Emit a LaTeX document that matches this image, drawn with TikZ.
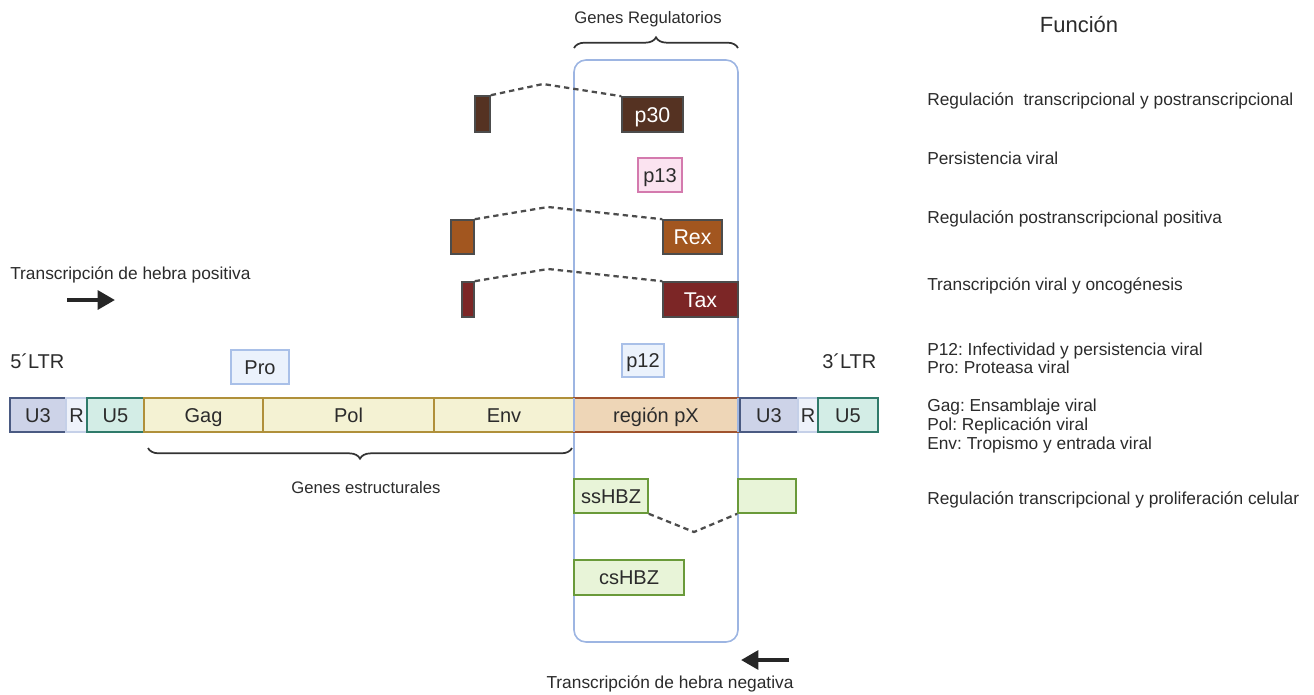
\documentclass[tikz,border=0pt]{standalone}
\usepackage{fontspec}
\setmainfont{Liberation Sans}
\usetikzlibrary{arrows.meta,decorations.pathreplacing}
\definecolor{txt}{HTML}{2B2B2B}
\definecolor{regblue}{HTML}{9DB5E2}
\definecolor{cp30}{HTML}{553222}
\definecolor{crex}{HTML}{A2561F}
\definecolor{ctax}{HTML}{7C2626}
\definecolor{p13fill}{HTML}{FBE3F0}
\definecolor{p13bd}{HTML}{D47AAE}
\definecolor{lbfill}{HTML}{EBF2FC}
\definecolor{lbbd}{HTML}{A9C0E8}
\definecolor{u3fill}{HTML}{CDD3E8}
\definecolor{u3bd}{HTML}{4A5A82}
\definecolor{rfill}{HTML}{EEF2FA}
\definecolor{rbd}{HTML}{C5D0E8}
\definecolor{u5fill}{HTML}{D3EDE6}
\definecolor{u5bd}{HTML}{2F7A6A}
\definecolor{sfill}{HTML}{F4F2D3}
\definecolor{sbd}{HTML}{B0903A}
\definecolor{pxfill}{HTML}{EED6B7}
\definecolor{pxbd}{HTML}{A0532E}
\definecolor{hfill}{HTML}{E8F4D8}
\definecolor{hbd}{HTML}{6A9A3A}
\def\u{0.75pt}
\frenchspacing
\tikzset{
  gbox/.style={draw, line width=1.2pt, inner sep=0pt, text=txt, font=\fontsize{15}{17}\selectfont, text height=10.8pt, text depth=0pt},
  dark/.style={gbox, draw=black!70, text=white, font=\fontsize{16}{18}\selectfont, text height=11.5pt},
  lbl/.style={inner sep=0pt, text=txt, font=\fontsize{13}{15}\selectfont},
  func/.style={lbl, anchor=west, align=left},
  splice/.style={line width=1.7pt, dash pattern=on 4pt off 3pt, draw=black!70},
  bigarrow/.style={line width=3pt, -{Triangle[length=13pt,width=14pt]}},
  brace/.style={decorate, decoration={brace, amplitude=8pt}, line width=1.3pt, draw=black!80},
}
\begin{document}
\begin{tikzpicture}[x=0.75pt,y=-0.75pt]
\useasboundingbox (0,0) rectangle (1314,694);

% regulatory region frame
\node[draw=regblue, line width=1.2pt, rounded corners=9pt, minimum width=164*\u, minimum height=582*\u, inner sep=0pt] (frame) at (656,351) {};

% top brace
\coordinate (tbl) at (574,48);
\coordinate (tbr) at (738,48);
\draw[brace] (tbl) -- (tbr);
\node[lbl, font=\fontsize{12.5}{15}\selectfont] (genreg) at (648,19) {Genes Regulatorios};
\node[lbl, font=\fontsize{16.5}{18}\selectfont] (funcion) at (1079,25) {Función};

% p30
\node[dark, fill=cp30, minimum width=61*\u, minimum height=35*\u] (p30) at (652.5,114.5) {p30};
\node[dark, fill=cp30, minimum width=15*\u, minimum height=36*\u] (p30e) at (482.5,114) {};
\coordinate (p30k) at (543,84);
\draw[splice] (p30e.north east) -- (p30k) -- (p30.north west);

% p13
\node[gbox, fill=p13fill, draw=p13bd, minimum width=44*\u, minimum height=34*\u] (p13) at (660,175) {p13};

% Rex
\node[dark, fill=crex, minimum width=59*\u, minimum height=34*\u] (rex) at (692.5,237) {Rex};
\node[dark, fill=crex, minimum width=23*\u, minimum height=34*\u] (rexe) at (462.5,237) {};
\coordinate (rexk) at (548,207);
\draw[splice] (rexe.north east) -- (rexk) -- (rex.north west);

% Tax
\node[dark, fill=ctax, minimum width=75*\u, minimum height=35*\u] (tax) at (700.5,299.5) {Tax};
\node[dark, fill=ctax, minimum width=12*\u, minimum height=35*\u] (taxe) at (468,299.5) {};
\coordinate (taxk) at (548,269);
\draw[splice] (taxe.north east) -- (taxk) -- (tax.north west);

% positive strand
\node[lbl, anchor=west] (tpos) at (10,275) {Transcripción de hebra positiva};
\coordinate (apos1) at (67,300);
\coordinate (apos2) at (115,300);
\draw[bigarrow, draw=black!85, fill=black!85] (apos1) -- (apos2);

\node[lbl, font=\fontsize{15}{17}\selectfont, anchor=west] (ltr5) at (10,361) {5´LTR};
\node[lbl, font=\fontsize{15}{17}\selectfont, anchor=west] (ltr3) at (822,361) {3´LTR};

\node[gbox, fill=lbfill, draw=lbbd, minimum width=58*\u, minimum height=34*\u] (pro) at (260,367) {Pro};
\node[gbox, fill=lbfill, draw=lbbd, minimum width=42*\u, minimum height=33*\u] (p12) at (643,360.5) {p12};

% genome bar
\node[gbox, fill=u3fill, draw=u3bd, minimum width=56*\u, minimum height=34*\u] (u3a) at (38,415) {U3};
\node[gbox, fill=rfill, draw=rbd, minimum width=21*\u, minimum height=34*\u] (ra) at (76.5,415) {R};
\node[gbox, fill=u5fill, draw=u5bd, minimum width=57*\u, minimum height=34*\u] (u5a) at (115.5,415) {U5};
\node[gbox, fill=sfill, draw=sbd, minimum width=119*\u, minimum height=34*\u] (gag) at (203.5,415) {Gag};
\node[gbox, fill=sfill, draw=sbd, minimum width=171*\u, minimum height=34*\u] (pol) at (348.5,415) {Pol};
\node[gbox, fill=sfill, draw=sbd, minimum width=140*\u, minimum height=34*\u] (env) at (504,415) {Env};
\node[gbox, fill=pxfill, draw=pxbd, minimum width=164*\u, minimum height=34*\u] (px) at (656,415) {región pX};
\node[gbox, fill=u3fill, draw=u3bd, minimum width=58*\u, minimum height=34*\u] (u3b) at (769,415) {U3};
\node[gbox, fill=rfill, draw=rbd, minimum width=20*\u, minimum height=34*\u] (rb) at (808,415) {R};
\node[gbox, fill=u5fill, draw=u5bd, minimum width=60*\u, minimum height=34*\u] (u5b) at (848,415) {U5};
\draw[regblue, line width=1.2pt] (574,398) -- (574,432);
\draw[regblue, line width=1.2pt] (738,398) -- (738,432);

% bottom brace
\coordinate (bbl) at (148,448);
\coordinate (bbr) at (572,448);
\draw[brace] (bbr) -- (bbl);
\node[lbl, font=\fontsize{12.5}{15}\selectfont] (genest) at (366,488) {Genes estructurales};

% HBZ
\node[gbox, fill=hfill, draw=hbd, minimum width=74*\u, minimum height=34*\u] (sshbz) at (611,496) {ssHBZ};
\node[gbox, fill=hfill, draw=hbd, minimum width=58*\u, minimum height=34*\u] (sshbze) at (767,496) {};
\coordinate (hbzk) at (694,532);
\draw[splice] (sshbz.south east) -- (hbzk) -- (sshbze.south west);
\node[gbox, fill=hfill, draw=hbd, minimum width=110*\u, minimum height=35*\u] (cshbz) at (629,577.5) {csHBZ};

% negative strand
\coordinate (aneg1) at (789,660);
\coordinate (aneg2) at (741,660);
\draw[bigarrow, draw=black!85, fill=black!85] (aneg1) -- (aneg2);
\node[lbl] (tneg) at (670,684) {Transcripción de hebra negativa};

% function column
\node[func] (f1) at (927,101) {Regulación\ \ transcripcional y postranscripcional};
\node[func] (f2) at (927,158) {Persistencia viral};
\node[func] (f3) at (927,219) {Regulación postranscripcional positiva};
\node[func] (f4) at (927,286) {Transcripción viral y oncogénesis};
\node[func, font=\fontsize{13}{13.6}\selectfont] (f5) at (927,358) {P12: Infectividad y persistencia viral\\Pro: Proteasa viral};
\node[func, font=\fontsize{13}{14.2}\selectfont] (f6) at (927,426) {Gag: Ensamblaje viral\\Pol: Replicación viral\\Env: Tropismo y entrada viral};
\node[func] (f7) at (927,500) {Regulación transcripcional y proliferación celular};
\end{tikzpicture}
\end{document}
